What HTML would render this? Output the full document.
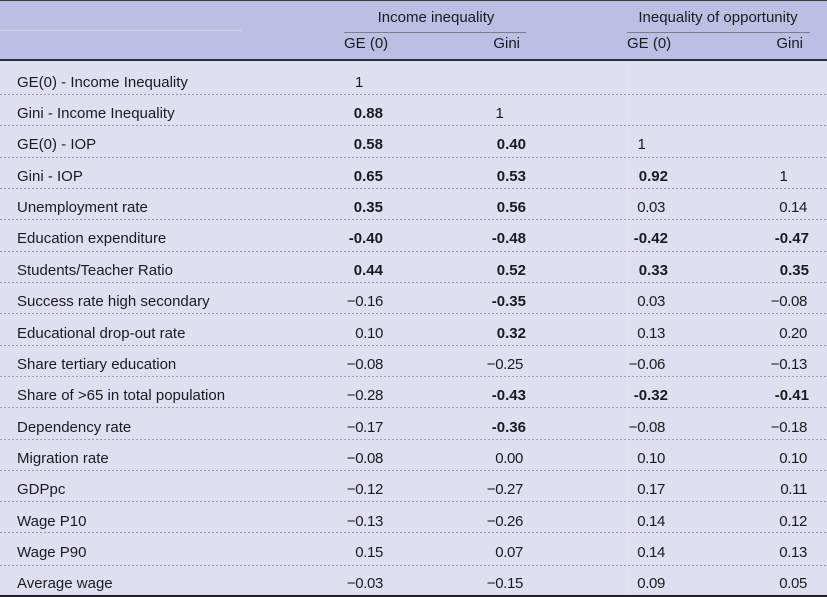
<!DOCTYPE html>
<html>
<head>
<meta charset="utf-8">
<style>
  html,body{margin:0;padding:0;}
  body{width:827px;height:597px;position:relative;overflow:hidden;background:#dedff1;
       font-family:"Liberation Sans","DejaVu Sans",sans-serif;color:#1b1b1f;}
  .abs{position:absolute;}
  #hdr{left:0;top:0;width:827px;height:59px;background:#bebee4;border-top:1px solid #3a3a44;box-sizing:border-box;}
  #hline{left:0;top:59px;width:827px;height:2px;background:#303038;}
  #bline{left:0;top:595px;width:827px;height:2px;background:#202026;}
  .t{position:absolute;white-space:nowrap;line-height:20px;height:20px;font-size:15px;}
  .r{font-size:15px;letter-spacing:-0.35px;}
  .b{font-weight:bold;font-size:15px;}
  .row{position:absolute;left:0;width:827px;height:20px;}
  .sep{position:absolute;left:0;width:827px;height:1px;
       background:repeating-linear-gradient(90deg,#9596a8 0 2px,transparent 2px 4px);}
  .ul{position:absolute;height:1px;background:#7c7c92;top:32px;}
</style>
</head>
<body>
<div id="hdr" class="abs"></div>
<div class="abs" style="left:0;top:30px;width:242px;height:1px;background:#cfd0ec;"></div>
<div class="ul" style="left:344px;width:182px;"></div>
<div class="ul" style="left:627px;width:183px;"></div>
<div id="hline" class="abs"></div>
<div class="abs" style="left:627px;top:61px;width:1px;height:534px;background:#e4e5f4;"></div>

<!-- header text -->
<div class="t" style="left:336px;width:200px;text-align:center;top:8px;">Income inequality</div>
<div class="t" style="left:618px;width:200px;text-align:center;top:8px;">Inequality of opportunity</div>
<div class="t" style="left:344px;top:34px;">GE (0)</div>
<div class="t" style="right:307px;top:34px;">Gini</div>
<div class="t" style="left:627px;top:34px;">GE (0)</div>
<div class="t" style="right:24px;top:34px;">Gini</div>

<!-- separators -->
<div class="sep" style="top:94px"></div>
<div class="sep" style="top:125px"></div>
<div class="sep" style="top:157px"></div>
<div class="sep" style="top:188px"></div>
<div class="sep" style="top:219px"></div>
<div class="sep" style="top:251px"></div>
<div class="sep" style="top:282px"></div>
<div class="sep" style="top:313px"></div>
<div class="sep" style="top:345px"></div>
<div class="sep" style="top:376px"></div>
<div class="sep" style="top:407px"></div>
<div class="sep" style="top:439px"></div>
<div class="sep" style="top:470px"></div>
<div class="sep" style="top:501px"></div>
<div class="sep" style="top:532px"></div>
<div class="sep" style="top:565px"></div>

<div class="row" style="top:72.5px">
  <div class="t" style="left:17px">GE(0) - Income Inequality</div>
  <div class="t r" style="right:464px">1</div>
</div>
<div class="row" style="top:103.9px">
  <div class="t" style="left:17px">Gini - Income Inequality</div>
  <div class="t b" style="right:444px">0.88</div>
  <div class="t r" style="right:323.5px">1</div>
</div>
<div class="row" style="top:135.2px">
  <div class="t" style="left:17px">GE(0) - IOP</div>
  <div class="t b" style="right:444px">0.58</div>
  <div class="t b" style="right:301px">0.40</div>
  <div class="t r" style="right:181.5px">1</div>
</div>
<div class="row" style="top:166.6px">
  <div class="t" style="left:17px">Gini - IOP</div>
  <div class="t b" style="right:444px">0.65</div>
  <div class="t b" style="right:301px">0.53</div>
  <div class="t b" style="right:159px">0.92</div>
  <div class="t r" style="right:39.5px">1</div>
</div>
<div class="row" style="top:198px">
  <div class="t" style="left:17px">Unemployment rate</div>
  <div class="t b" style="right:444px">0.35</div>
  <div class="t b" style="right:301px">0.56</div>
  <div class="t r" style="right:162px">0.03</div>
  <div class="t r" style="right:20px">0.14</div>
</div>
<div class="row" style="top:229.4px">
  <div class="t" style="left:17px">Education expenditure</div>
  <div class="t b" style="right:444px">-0.40</div>
  <div class="t b" style="right:301px">-0.48</div>
  <div class="t b" style="right:159px">-0.42</div>
  <div class="t b" style="right:18px">-0.47</div>
</div>
<div class="row" style="top:260.7px">
  <div class="t" style="left:17px">Students/Teacher Ratio</div>
  <div class="t b" style="right:444px">0.44</div>
  <div class="t b" style="right:301px">0.52</div>
  <div class="t b" style="right:159px">0.33</div>
  <div class="t b" style="right:18px">0.35</div>
</div>
<div class="row" style="top:292.1px">
  <div class="t" style="left:17px">Success rate high secondary</div>
  <div class="t r" style="right:444px">−0.16</div>
  <div class="t b" style="right:301px">-0.35</div>
  <div class="t r" style="right:162px">0.03</div>
  <div class="t r" style="right:20px">−0.08</div>
</div>
<div class="row" style="top:323.5px">
  <div class="t" style="left:17px">Educational drop-out rate</div>
  <div class="t r" style="right:444px">0.10</div>
  <div class="t b" style="right:301px">0.32</div>
  <div class="t r" style="right:162px">0.13</div>
  <div class="t r" style="right:20px">0.20</div>
</div>
<div class="row" style="top:354.8px">
  <div class="t" style="left:17px">Share tertiary education</div>
  <div class="t r" style="right:444px">−0.08</div>
  <div class="t r" style="right:304px">−0.25</div>
  <div class="t r" style="right:162px">−0.06</div>
  <div class="t r" style="right:20px">−0.13</div>
</div>
<div class="row" style="top:386.2px">
  <div class="t" style="left:17px">Share of &gt;65 in total population</div>
  <div class="t r" style="right:444px">−0.28</div>
  <div class="t b" style="right:301px">-0.43</div>
  <div class="t b" style="right:159px">-0.32</div>
  <div class="t b" style="right:18px">-0.41</div>
</div>
<div class="row" style="top:417.6px">
  <div class="t" style="left:17px">Dependency rate</div>
  <div class="t r" style="right:444px">−0.17</div>
  <div class="t b" style="right:301px">-0.36</div>
  <div class="t r" style="right:162px">−0.08</div>
  <div class="t r" style="right:20px">−0.18</div>
</div>
<div class="row" style="top:448.9px">
  <div class="t" style="left:17px">Migration rate</div>
  <div class="t r" style="right:444px">−0.08</div>
  <div class="t r" style="right:304px">0.00</div>
  <div class="t r" style="right:162px">0.10</div>
  <div class="t r" style="right:20px">0.10</div>
</div>
<div class="row" style="top:480.3px">
  <div class="t" style="left:17px">GDPpc</div>
  <div class="t r" style="right:444px">−0.12</div>
  <div class="t r" style="right:304px">−0.27</div>
  <div class="t r" style="right:162px">0.17</div>
  <div class="t r" style="right:20px">0.11</div>
</div>
<div class="row" style="top:511.7px">
  <div class="t" style="left:17px">Wage P10</div>
  <div class="t r" style="right:444px">−0.13</div>
  <div class="t r" style="right:304px">−0.26</div>
  <div class="t r" style="right:162px">0.14</div>
  <div class="t r" style="right:20px">0.12</div>
</div>
<div class="row" style="top:543px">
  <div class="t" style="left:17px">Wage P90</div>
  <div class="t r" style="right:444px">0.15</div>
  <div class="t r" style="right:304px">0.07</div>
  <div class="t r" style="right:162px">0.14</div>
  <div class="t r" style="right:20px">0.13</div>
</div>
<div class="row" style="top:574.4px">
  <div class="t" style="left:17px">Average wage</div>
  <div class="t r" style="right:444px">−0.03</div>
  <div class="t r" style="right:304px">−0.15</div>
  <div class="t r" style="right:162px">0.09</div>
  <div class="t r" style="right:20px">0.05</div>
</div>

<div id="bline" class="abs"></div>
</body>
</html>
